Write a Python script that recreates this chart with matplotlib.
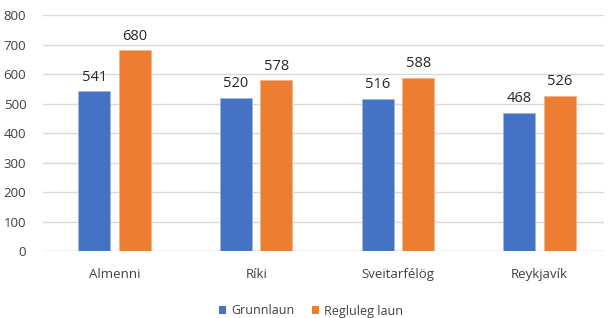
import matplotlib
matplotlib.use("Agg")
import matplotlib.pyplot as plt
import numpy as np

categories = ["Almenni", "Ríki", "Sveitarfélög", "Reykjavík"]
grunnlaun = [541, 520, 516, 468]
regluleg = [680, 578, 588, 526]
series_names = ["Grunnlaun", "Regluleg laun"]
yticks = [0, 100, 200, 300, 400, 500, 600, 700, 800]

plt.rcParams['font.family'] = ['Open Sans', 'DejaVu Sans']

W, H = 608, 318
fig = plt.figure(figsize=(W/100, H/100), dpi=100)
left, right, top, bottom = 43, 604, 15, 251
ax = fig.add_axes([left/W, 1-bottom/H, (right-left)/W, (bottom-top)/H])

x = np.arange(len(categories))
bw = 0.226
off = 0.143
c1, c2 = "#4472C4", "#ED7D31"
b1 = ax.bar(x-off, grunnlaun, bw, color=c1, edgecolor="#9FB6E0", linewidth=0.6, zorder=3, label=series_names[0])
b2 = ax.bar(x+off, regluleg, bw, color=c2, edgecolor="#F5B48A", linewidth=0.6, zorder=3, label=series_names[1])
for bars in (b1, b2):
    for r in bars:
        ax.text(r.get_x()+r.get_width()/2, r.get_height()+22, f"{int(r.get_height())}",
                ha="center", va="bottom", fontsize=10.5, color="#262626")

ax.set_ylim(0, 800)
ax.set_xlim(-0.505, 3.455)
ax.set_yticks(yticks)
ax.set_xticks(x)
ax.set_xticklabels(categories)
ax.tick_params(axis='both', length=0, labelsize=9.5, colors="#404040")
ax.tick_params(axis='y', pad=12)
ax.tick_params(axis='x', pad=12)
ax.yaxis.grid(True, color="#D9D9D9", linewidth=1, zorder=0)
for s in ax.spines.values():
    s.set_visible(False)
ax.axhline(0, color="#D9D9D9", linewidth=1, zorder=1)

leg = fig.legend(handles=[b1, b2], labels=series_names, loc="center", bbox_to_anchor=(311/W, 1-311/H),
                 ncol=2, frameon=False, fontsize=9, handlelength=0.6, handleheight=0.6,
                 handletextpad=0.4, columnspacing=1.4, labelcolor="#404040")
for h in leg.legend_handles:
    h.set_edgecolor("none")

fig.savefig("out.png", dpi=100)
